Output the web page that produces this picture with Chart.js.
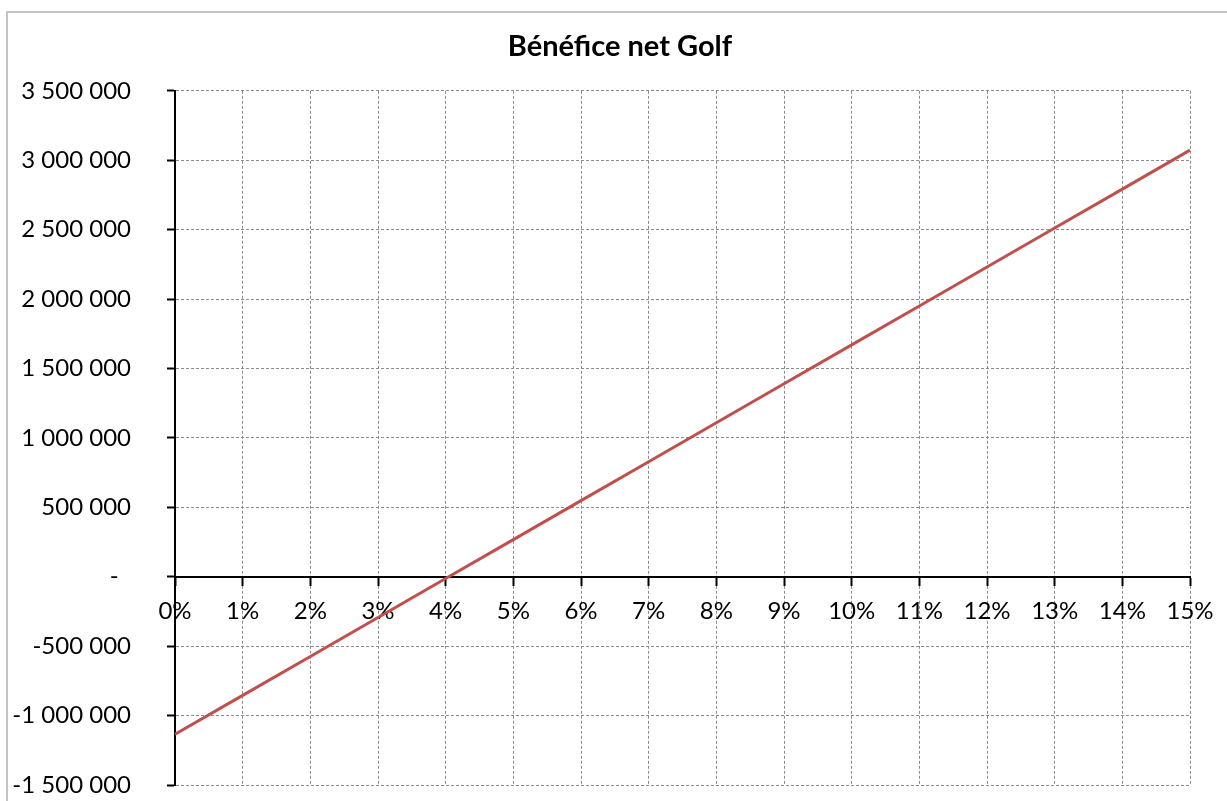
<!DOCTYPE html>
<html>
<head>
<meta charset="utf-8">
<script src="https://cdn.jsdelivr.net/npm/chart.js@4/dist/chart.umd.min.js"></script>
<style>
  html, body { margin: 0; padding: 0; background: #ffffff; }
  #wrap { position: relative; width: 1227px; height: 801px; overflow: hidden; }
  canvas { display: block; }
</style>
</head>
<body>
<div id="wrap"><canvas id="c" width="1227" height="801"></canvas></div>
<script>
const chartTitle = 'Bénéfice net Golf';
const categories = ['0%','1%','2%','3%','4%','5%','6%','7%','8%','9%','10%','11%','12%','13%','14%','15%'];
const beneficeNet = [-1135000, -854500, -574000, -293500, -13000, 267500, 548000, 828500, 1109000, 1389500, 1670000, 1950500, 2231000, 2511500, 2792000, 3072500];
const yMin = -1500000;
const yMax = 3500000;
const yStep = 500000;

function fmt(v) {
  if (v === 0) return '-  ';
  const s = Math.abs(v).toString().replace(/\B(?=(\d{3})+(?!\d))/g, ' ');
  return (v < 0 ? '-' : '') + s;
}

const outerBorder = {
  id: 'outerBorder',
  beforeDraw(chart) {
    const ctx = chart.ctx;
    ctx.save();
    ctx.strokeStyle = '#c4c4c4';
    ctx.lineWidth = 2;
    ctx.strokeRect(7, 12, 1400, 1000);
    ctx.restore();
  }
};

const FONT = 'Lato, "Open Sans", sans-serif';

new Chart(document.getElementById('c'), {
  type: 'line',
  data: {
    labels: categories,
    datasets: [{
      label: chartTitle,
      data: beneficeNet,
      borderColor: '#c0504d',
      borderWidth: 3,
      pointRadius: 0,
      tension: 0,
      fill: false
    }]
  },
  options: {
    responsive: false,
    animation: false,
    layout: { padding: { left: 13, right: 0, top: 0, bottom: 16 } },
    plugins: {
      legend: { display: false },
      tooltip: { enabled: false },
      title: {
        display: true,
        text: chartTitle,
        color: '#000000',
        font: { family: FONT, size: 29, weight: 'bold' },
        padding: { top: 29, bottom: 27 }
      }
    },
    scales: {
      x: {
        type: 'category',
        position: { y: 0 },
        offset: false,
        afterFit(scale) {
          scale.paddingRight = 37;
        },
        grid: {
          display: true,
          color: '#8c8c8c',
          lineWidth: 1,
          drawOnChartArea: true,
          drawTicks: true,
          tickLength: 8,
          tickColor: '#000000',
          tickWidth: 2
        },
        border: { display: true, color: '#000000', width: 2, dash: [3, 2] },
        ticks: {
          color: '#000000',
          font: { family: FONT, size: 24 },
          padding: 12,
          maxRotation: 0,
          autoSkip: false
        }
      },
      y: {
        type: 'linear',
        position: 'left',
        min: yMin,
        max: yMax,
        afterFit(scale) {
          scale.width = 162;
          scale.paddingTop = 14;
          scale.paddingBottom = 14;
        },
        grid: {
          display: true,
          color: '#8c8c8c',
          lineWidth: 1,
          drawTicks: true,
          tickLength: 8,
          tickColor: '#000000',
          tickWidth: 2
        },
        border: { display: true, color: '#000000', width: 2, dash: [3, 2] },
        ticks: {
          stepSize: yStep,
          color: '#000000',
          font: { family: FONT, size: 24 },
          padding: 36,
          callback: (v) => fmt(v)
        }
      }
    }
  },
  plugins: [outerBorder]
});
</script>
</body>
</html>
